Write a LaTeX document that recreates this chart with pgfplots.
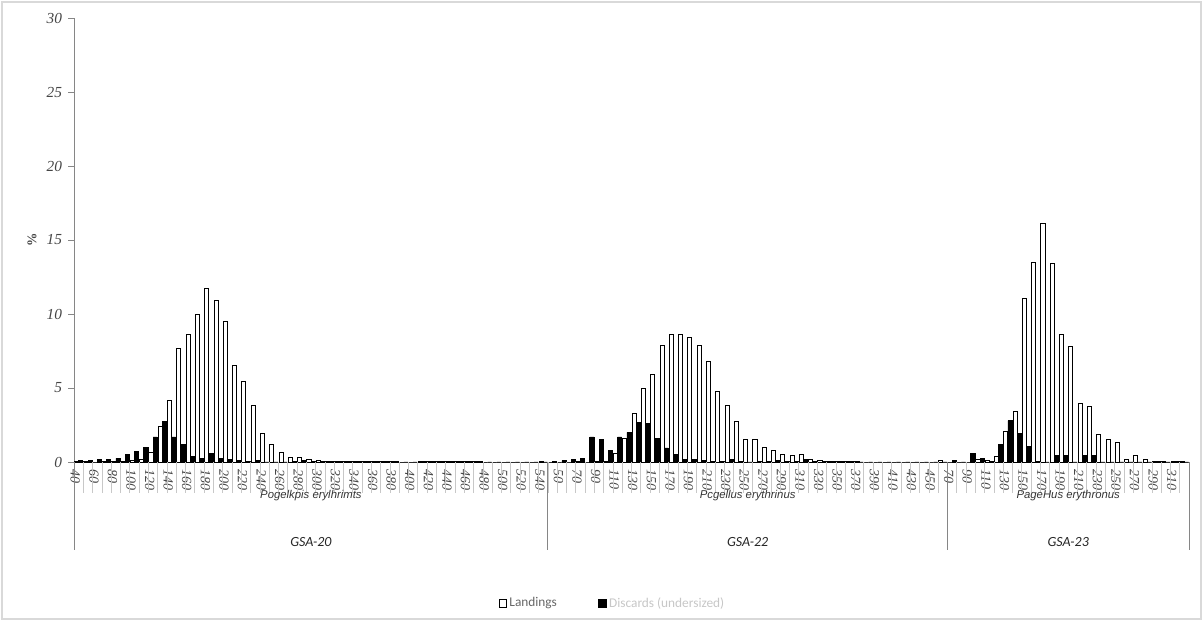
\documentclass[border=0pt]{standalone}
\usepackage{fontspec}
\setmainfont{Liberation Serif}
\newfontfamily\calibri{Carlito}
\newfontfamily\arial{Liberation Sans}
\usepackage{pgfplots}
\usepackage{pgfplotstable}
\pgfplotsset{compat=1.18}

\definecolor{axgray}{HTML}{868686}
\definecolor{sepgray}{HTML}{C8C8C8}
\definecolor{txtgray}{HTML}{454545}
\definecolor{framegray}{HTML}{D9D9D9}

% Length-frequency (%) by 10 mm class: W = white series, B = black series
\pgfplotstableread{
len W B
40 0.05 0.10
50 0.05 0.10
60 0.00 0.15
70 0.05 0.15
80 0.05 0.25
90 0.05 0.50
100 0.10 0.70
110 0.15 1.00
120 0.67 1.70
130 2.40 2.76
140 4.20 1.70
150 7.70 1.20
160 8.65 0.40
170 9.97 0.25
180 11.73 0.60
190 10.90 0.25
200 9.50 0.15
210 6.56 0.10
220 5.43 0.05
230 3.84 0.10
240 1.92 0.00
250 1.19 0.00
260 0.67 0.00
270 0.33 0.05
280 0.33 0.10
290 0.15 0.05
300 0.10 0.05
310 0.05 0.05
320 0.05 0.05
330 0.05 0.05
340 0.05 0.05
350 0.05 0.05
360 0.05 0.05
370 0.05 0.05
380 0.05 0.05
390 0.00 0.00
400 0.00 0.00
410 0.05 0.05
420 0.05 0.05
430 0.05 0.05
440 0.05 0.05
450 0.05 0.05
460 0.05 0.05
470 0.05 0.05
480 0.00 0.00
490 0.00 0.00
500 0.00 0.00
510 0.00 0.00
520 0.00 0.00
530 0.00 0.00
540 0.05 0.00
}\gsatwenty

\pgfplotstableread{
len W B
40 0.00 0.05
50 0.00 0.10
60 0.00 0.15
70 0.05 0.25
80 0.00 1.70
90 0.05 1.50
100 0.05 0.80
110 0.60 1.70
120 1.60 2.00
130 3.30 2.65
140 5.00 2.60
150 5.90 1.60
160 7.90 0.95
170 8.65 0.50
180 8.60 0.15
190 8.40 0.15
200 7.90 0.10
210 6.80 0.05
220 4.75 0.05
230 3.85 0.20
240 2.75 0.05
250 1.50 0.00
260 1.50 0.05
270 1.00 0.05
280 0.80 0.10
290 0.50 0.05
300 0.45 0.05
310 0.50 0.20
320 0.20 0.05
330 0.10 0.05
340 0.05 0.05
350 0.05 0.05
360 0.05 0.05
370 0.05 0.00
380 0.00 0.00
390 0.00 0.00
400 0.00 0.00
410 0.00 0.00
420 0.00 0.00
430 0.00 0.00
440 0.00 0.00
450 0.00 0.00
460 0.10 0.00
}\gsatwentytwo

\pgfplotstableread{
len W B
70 0.00 0.10
80 0.00 0.00
90 0.00 0.57
100 0.15 0.22
110 0.10 0.05
120 0.35 1.20
130 2.05 2.80
140 3.40 1.93
150 11.05 1.05
160 13.50 0.05
170 16.15 0.00
180 13.40 0.45
190 8.60 0.45
200 7.80 0.00
210 3.95 0.45
220 3.75 0.45
230 1.85 0.00
240 1.50 0.00
250 1.30 0.00
260 0.20 0.00
270 0.45 0.00
280 0.15 0.00
290 0.05 0.05
300 0.05 0.00
310 0.05 0.05
320 0.05 0.00
}\gsatwentythree

\begin{document}
\begin{tikzpicture}
\useasboundingbox (0pt,0pt) rectangle (902.25pt,465.75pt);
\draw[framegray, line width=1.2pt] (1.5pt,1.5pt) rectangle (900.75pt,464.25pt);
\begin{axis}[
  at={(55.5pt,119.25pt)}, anchor=south west,
  scale only axis, width=836.25pt, height=333pt,
  xmin=0, xmax=120, ymin=0, ymax=30,
  clip=false,
  axis lines*=left,
  axis line style={axgray, line width=0.6pt},
  tick align=outside,
  major tick length=4.5pt,
  ytick={0,5,...,30},
  ytick style={axgray, line width=0.6pt},
  yticklabel style={font=\itshape\fontsize{11.5}{13}\selectfont, text=txtgray, xshift=-1pt},
  /pgf/number format/assume math mode=true,
  xtick={0.5,2.5,...,118.5},
  xtick style={draw=none},
  xticklabels={40,60,80,100,120,140,160,180,200,220,240,260,280,300,320,340,360,380,400,420,440,460,480,500,520,540,
               50,70,90,110,130,150,170,190,210,230,250,270,290,310,330,350,370,390,410,430,450,
               70,90,110,130,150,170,190,210,230,250,270,290,310},
  xticklabel style={rotate=-90, anchor=west, inner sep=1pt, yshift=-2.5pt,
                    font=\itshape\fontsize{10.5}{12}\selectfont, text=txtgray},
  ylabel={\%},
  every axis y label/.style={at={(axis description cs:-0.0377,0.5)}, rotate=90, anchor=center,
                             font=\bfseries\fontsize{10}{12}\selectfont, text=txtgray},
  ybar, bar width=0.44,
  area legend,
  legend columns=2,
  legend style={at={(axis description cs:0.377,-0.318)}, anchor=west, draw=none,
                font=\calibri\fontsize{10}{12}\selectfont,
                /tikz/every even column/.append style={column sep=29pt}},
  legend image code/.code={\draw[#1] (0pt,-2.8pt) rectangle (5.6pt,2.8pt);},
]
% white series
\addplot[bar shift=0pt, fill=white, draw=black, line width=0.5pt]
  table[x expr=\thisrow{len}/10-4+0.27, y=W] {\gsatwenty};
\addlegendentry{\textcolor{black!60}{Landings}}
% black series
\addplot[bar shift=0pt, fill=black, draw=black, line width=0.5pt]
  table[x expr=\thisrow{len}/10-4+0.73, y=B] {\gsatwenty};
\addlegendentry{\textcolor{black!22}{Discards (undersized)}}
\addplot[forget plot, bar shift=0pt, fill=white, draw=black, line width=0.5pt]
  table[x expr=51+\thisrow{len}/10-4+0.27, y=W] {\gsatwentytwo};
\addplot[forget plot, bar shift=0pt, fill=black, draw=black, line width=0.5pt]
  table[x expr=51+\thisrow{len}/10-4+0.73, y=B] {\gsatwentytwo};
\addplot[forget plot, bar shift=0pt, fill=white, draw=black, line width=0.5pt]
  table[x expr=94+\thisrow{len}/10-7+0.27, y=W] {\gsatwentythree};
\addplot[forget plot, bar shift=0pt, fill=black, draw=black, line width=0.5pt]
  table[x expr=94+\thisrow{len}/10-7+0.73, y=B] {\gsatwentythree};

% category separators under the axis
\pgfplotsinvokeforeach{1,...,119}{
  \draw[sepgray, line width=0.5pt] (axis cs:#1,0) -- ++(0pt,-23.25pt);
}
% group separators
\pgfplotsinvokeforeach{0,51,94,120}{
  \draw[axgray, line width=0.6pt] (axis cs:#1,0) -- ++(0pt,-66pt);
}
% species names
\node[font=\arial\itshape\fontsize{8.5}{10}\selectfont, text=black!80, yshift=-25.5pt] at (axis cs:25.5,0) {Pogelkpis erylhrimts};
\node[font=\arial\itshape\fontsize{8.5}{10}\selectfont, text=black!80, yshift=-25.5pt] at (axis cs:72.5,0) {Pcgellus erythrinus};
\node[font=\arial\itshape\fontsize{8.5}{10}\selectfont, text=black!80, yshift=-25.5pt] at (axis cs:107,0) {PageHus erythronus};
% group labels
\node[font=\calibri\itshape\fontsize{10.5}{12}\selectfont, text=black!85, yshift=-60pt] at (axis cs:25.5,0) {GSA-20};
\node[font=\calibri\itshape\fontsize{10.5}{12}\selectfont, text=black!85, yshift=-60pt] at (axis cs:72.5,0) {GSA-22};
\node[font=\calibri\itshape\fontsize{10.5}{12}\selectfont, text=black!85, yshift=-60pt] at (axis cs:107,0) {GSA-23};
\end{axis}
\end{tikzpicture}
\end{document}
